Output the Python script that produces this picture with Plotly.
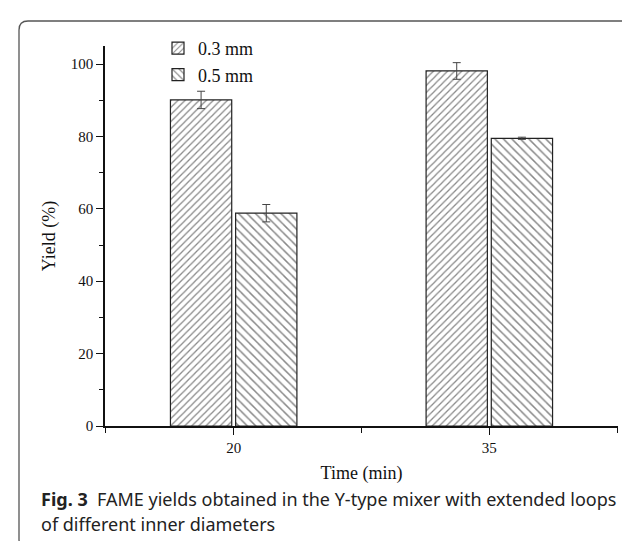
import plotly.graph_objects as go

# Data
times = [20, 35]
series_names = ["0.3 mm", "0.5 mm"]
yield_03 = [90.1, 98.1]
err_03 = [2.4, 2.3]
yield_05 = [58.8, 79.5]
err_05 = [2.4, 0.3]
x_tick_vals = [20, 35]
x_tick_text = ["20", "35"]
y_tick_vals = [0, 20, 40, 60, 80, 100]

W, H = 630, 541
L, R, T, B = 97, 20, 38, 123
PW = W - L - R
PH = H - T - B

def px(x):
    return (x - L) / PW

def py(y):
    return (H - B - y) / PH

SERIF = "Liberation Serif, Times New Roman, serif"
SANS = "Noto Sans, Open Sans, sans-serif"

fig = go.Figure()
fig.add_trace(go.Bar(
    x=times, y=yield_03, name=series_names[0],
    marker=dict(color="white", line=dict(color="#222", width=1.2),
                pattern=dict(shape="/", fgcolor="#111", bgcolor="white", size=5, solidity=0.25)),
    error_y=dict(type="data", array=err_03, color="#444", thickness=1, width=4),
))
fig.add_trace(go.Bar(
    x=times, y=yield_05, name=series_names[1],
    marker=dict(color="white", line=dict(color="#222", width=1.2),
                pattern=dict(shape="\\", fgcolor="#111", bgcolor="white", size=6, solidity=0.25)),
    error_y=dict(type="data", array=err_05, color="#444", thickness=1, width=4),
))

# rounded outer frame
r = 9
x0, x1 = 11, 629
y0, y1 = 13, 541
path = (
    f"M {px(x0)},{py(y0 + r)} Q {px(x0)},{py(y0)} {px(x0 + r)},{py(y0)} "
    f"L {px(x1 - r)},{py(y0)} Q {px(x1)},{py(y0)} {px(x1)},{py(y0 + r)} "
    f"L {px(x1)},{py(y1 - r)} Q {px(x1)},{py(y1)} {px(x1 - r)},{py(y1)} "
    f"L {px(x0 + r)},{py(y1)} Q {px(x0)},{py(y1)} {px(x0)},{py(y1 - r)} Z"
)
fig.add_shape(type="path", path=path, xref="paper", yref="paper",
              line=dict(color="#555", width=1.3), fillcolor="rgba(0,0,0,0)", layer="below")

fig.add_annotation(x=px(31), y=py(491), xref="paper", yref="paper", xanchor="left", yanchor="middle",
                   showarrow=False, align="left",
                   text="<b>Fig. 3</b>  FAME yields obtained in the Y-type mixer with extended loops",
                   font=dict(family=SANS, size=18, color="#222"))
fig.add_annotation(x=px(31), y=py(516), xref="paper", yref="paper", xanchor="left", yanchor="middle",
                   showarrow=False, align="left",
                   text="of different inner diameters",
                   font=dict(family=SANS, size=18, color="#222"))

fig.update_layout(
    width=W, height=H,
    margin=dict(l=L, r=R, t=T, b=B, pad=0),
    paper_bgcolor="white", plot_bgcolor="white",
    barmode="group", bargap=0.49, bargroupgap=0.06,
    showlegend=True,
    legend=dict(x=px(150), y=py(22), xanchor="left", yanchor="top",
                font=dict(family=SERIF, size=18, color="#111"),
                bgcolor="rgba(0,0,0,0)", tracegroupgap=0, itemwidth=30),
    font=dict(family=SERIF, color="#111"),
    xaxis=dict(range=[12.45, 42.55], tickmode="array", tickvals=x_tick_vals, ticktext=x_tick_text,
               ticks="outside", ticklen=7, tickwidth=1.2, tickcolor="#111",
               showline=True, linecolor="#111", linewidth=1.5, showgrid=False, zeroline=False,
               minor=dict(tickvals=[12.5, 27.5, 42.5], ticks="outside", ticklen=5, tickwidth=1.2, tickcolor="#111"),
               tickfont=dict(family=SERIF, size=15, color="#111"),
               title=dict(text="Time (min)", font=dict(family=SERIF, size=18, color="#111"), standoff=12)),
    yaxis=dict(range=[0, 105], tickmode="array", tickvals=y_tick_vals,
               ticks="outside", ticklen=7, tickwidth=1.2, tickcolor="#111",
               showline=True, linecolor="#111", linewidth=1.5, showgrid=False, zeroline=False,
               minor=dict(tickvals=[10, 30, 50, 70, 90], ticks="outside", ticklen=4, tickwidth=1.2, tickcolor="#111"),
               tickfont=dict(family=SERIF, size=15, color="#111"),
               title=dict(text="Yield (%)", font=dict(family=SERIF, size=18, color="#111"), standoff=10)),
)

fig.write_html("out.html")
